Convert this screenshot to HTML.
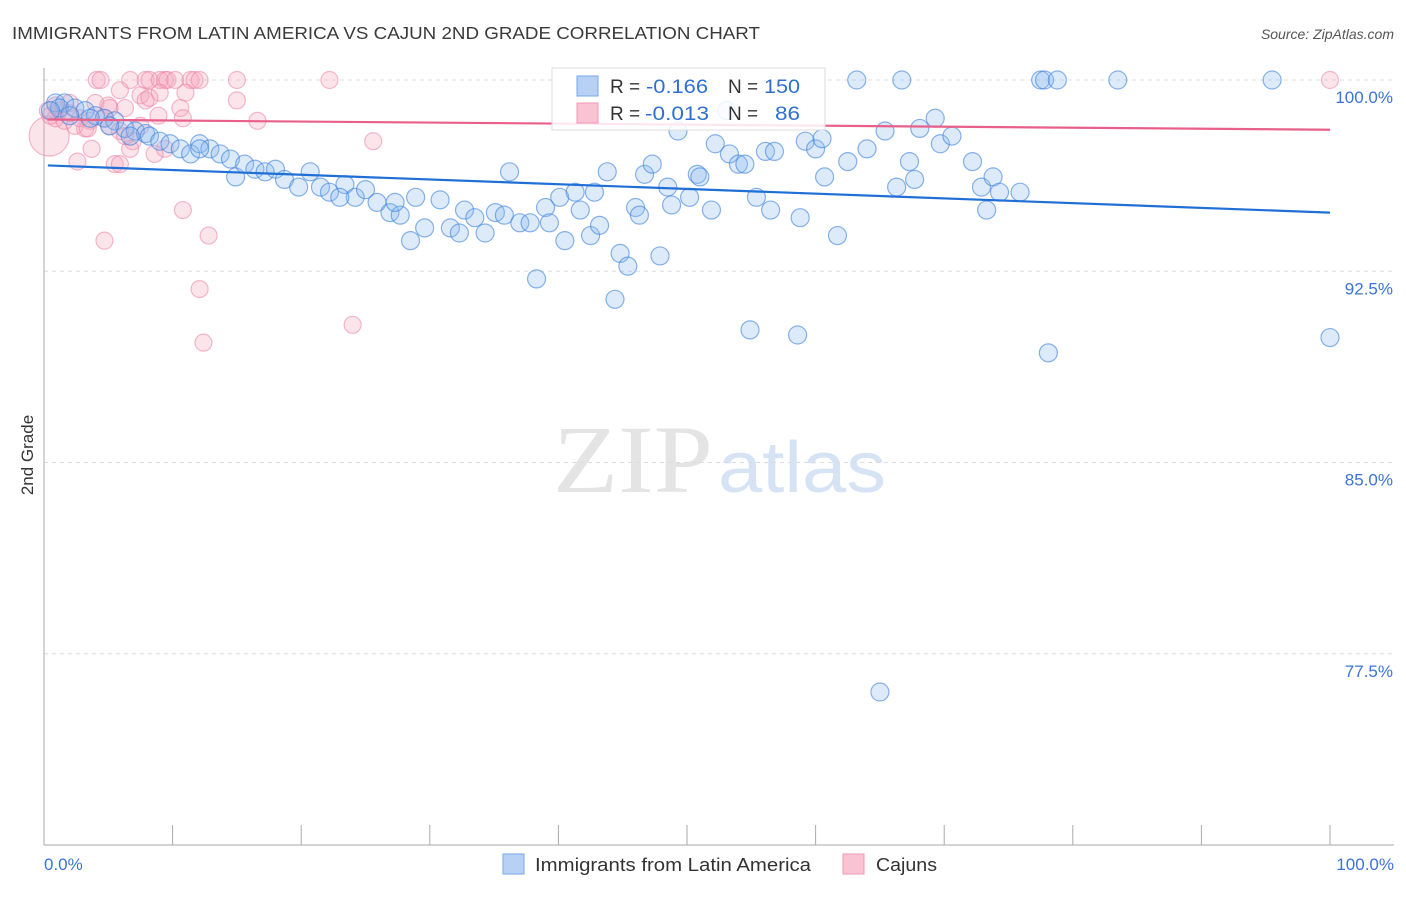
<!DOCTYPE html>
<html><head><meta charset="utf-8"><style>
body{margin:0;background:#fff;}
svg{font-family:"Liberation Sans",sans-serif;}
</style></head><body>
<svg width="1406" height="892" viewBox="0 0 1406 892">
<text x="12" y="39" font-size="17.5" fill="#3a3a3a" textLength="748" lengthAdjust="spacingAndGlyphs">IMMIGRANTS FROM LATIN AMERICA VS CAJUN 2ND GRADE CORRELATION CHART</text>
<text x="1394" y="39" font-size="14" fill="#555" font-style="italic" text-anchor="end">Source: ZipAtlas.com</text>
<g>
<text x="553" y="492" font-size="96" font-family="Liberation Serif,serif" fill="#e4e4e4" textLength="160" lengthAdjust="spacingAndGlyphs">ZIP</text>
<text x="718" y="492" font-size="72" fill="#d6e3f5" textLength="168" lengthAdjust="spacingAndGlyphs">atlas</text>
</g>
<g id="grid"></g>
<g id="axes"></g>
<g id="marks"></g>
<g>
<rect x="552" y="68" width="273" height="62" fill="#fff" fill-opacity="0.85" stroke="#ddd"/>
<rect x="577" y="76" width="21" height="20" fill="#b7d1f5" stroke="#7aa6e6"/>
<rect x="577" y="103" width="21" height="20" fill="#f9c3d3" stroke="#ef9ab5"/>
<text x="610" y="93" font-size="19" fill="#333">R =</text>
<text x="646" y="93" font-size="19" fill="#2f6fd0" textLength="62" lengthAdjust="spacingAndGlyphs">-0.166</text>
<text x="728" y="93" font-size="19" fill="#333">N =</text>
<text x="764" y="93" font-size="19" fill="#2f6fd0" textLength="36" lengthAdjust="spacingAndGlyphs">150</text>
<text x="610" y="120" font-size="19" fill="#333">R =</text>
<text x="645" y="120" font-size="19" fill="#2f6fd0" textLength="64" lengthAdjust="spacingAndGlyphs">-0.013</text>
<text x="728" y="120" font-size="19" fill="#333">N =</text>
<text x="775" y="120" font-size="19" fill="#2f6fd0" textLength="25" lengthAdjust="spacingAndGlyphs">86</text>
</g>
<g>
<rect x="503" y="854" width="21" height="20" fill="#b7d1f5" stroke="#7aa6e6"/>
<text x="535" y="871" font-size="18" fill="#333" textLength="276" lengthAdjust="spacingAndGlyphs">Immigrants from Latin America</text>
<rect x="843" y="854" width="21" height="20" fill="#f9c3d3" stroke="#ef9ab5"/>
<text x="876" y="871" font-size="18" fill="#333" textLength="61" lengthAdjust="spacingAndGlyphs">Cajuns</text>
</g>
<text transform="translate(33,455) rotate(-90)" font-size="17" fill="#333" text-anchor="middle">2nd Grade</text>
</svg>
<script>
const yTicks=[100,92.5,85,77.5];
const yTickLabels=["100.0%","92.5%","85.0%","77.5%"];
const xTickLabels=["0.0%","100.0%"];
const blueTrend=[96.65,94.8];
const pinkTrend=[98.45,98.05];
const bluePts=[[0.9,99.1],[1.6,99.1],[1.2,98.9],[2.4,98.9],[3.2,98.8],[4.0,98.6],[4.7,98.5],[5.5,98.4],[6.3,98.1],[7.1,98.0],[7.9,97.9],[8.2,97.8],[9.0,97.6],[9.8,97.5],[10.6,97.3],[11.4,97.1],[12.1,97.5],[12.9,97.3],[13.7,97.1],[14.5,96.9],[14.9,96.2],[15.6,96.7],[16.4,96.5],[17.2,96.4],[18.0,96.5],[18.7,96.1],[19.8,95.8],[20.7,96.4],[21.5,95.8],[22.2,95.6],[23.4,95.9],[24.2,95.4],[25.0,95.7],[25.9,95.2],[26.9,94.8],[28.5,93.7],[28.9,95.4],[29.6,94.2],[30.8,95.3],[31.6,94.2],[32.7,94.9],[33.5,94.6],[34.3,94.0],[35.1,94.8],[35.8,94.7],[36.2,96.4],[37.0,94.4],[37.8,94.4],[38.3,92.2],[39.0,95.0],[39.3,94.4],[40.1,95.4],[40.5,93.7],[41.3,95.6],[41.7,94.9],[42.5,93.9],[42.8,95.6],[43.2,94.3],[43.8,96.4],[44.4,91.4],[44.8,93.2],[45.4,92.7],[46.0,95.0],[46.3,94.7],[46.7,96.3],[47.3,96.7],[47.9,93.1],[48.5,95.8],[48.8,95.1],[49.3,98.0],[50.2,95.4],[50.8,96.3],[51.0,96.2],[51.9,94.9],[52.2,97.5],[53.3,97.1],[54.0,96.7],[54.5,96.7],[54.9,90.2],[55.4,95.4],[56.1,97.2],[56.5,94.9],[56.8,97.2],[58.6,90.0],[58.8,94.6],[59.2,97.6],[60.0,97.3],[60.5,97.7],[60.7,96.2],[61.7,93.9],[62.5,96.8],[63.2,100],[64.0,97.3],[65.0,76.0],[65.4,98.0],[66.3,95.8],[66.7,100],[67.3,96.8],[67.7,96.1],[68.1,98.1],[69.3,98.5],[69.7,97.5],[70.6,97.8],[72.2,96.8],[72.9,95.8],[73.3,94.9],[73.8,96.2],[74.3,95.6],[75.9,95.6],[77.5,100],[77.8,100],[78.1,89.3],[78.8,100],[83.5,100],[95.5,100],[100,89.9],[53.1,98.8],[0.5,98.8],[2.0,98.6],[3.6,98.5],[5.1,98.2],[6.7,97.8],[12.1,97.3],[23.0,95.4],[27.7,94.7],[32.3,94.0],[27.3,95.2]];
const pinkPts=[[4.1,100],[4.4,100],[6.7,100],[7.9,100],[8.2,100],[9.0,100],[9.4,100],[9.6,100],[10.2,100],[11.4,100],[11.7,100],[12.1,100],[15.0,100],[22.2,100],[100,100],[5.9,99.6],[7.5,99.4],[7.9,99.2],[8.2,99.3],[9.0,99.5],[11.0,99.5],[15.0,99.2],[10.6,98.9],[4.0,99.1],[5.0,99.0],[6.3,98.9],[8.9,98.6],[10.8,98.5],[16.6,98.4],[1.2,98.8],[2.0,98.7],[2.8,98.5],[3.6,98.4],[4.7,98.5],[0.9,98.5],[1.6,98.4],[2.4,98.2],[3.2,98.1],[5.1,98.2],[5.9,98.0],[6.9,97.6],[25.6,97.6],[3.7,97.3],[6.7,97.3],[9.4,97.3],[8.6,97.1],[2.6,96.8],[5.5,96.7],[5.9,96.7],[10.8,94.9],[12.8,93.9],[4.7,93.7],[12.1,91.8],[24.0,90.4],[12.4,89.7],[0.5,98.6],[0.3,98.8],[5.1,98.9],[7.5,98.2],[6.3,97.8],[3.4,98.1],[0.9,99.0],[2.0,99.1]];
const pinkBig=[[0.4,97.8]];

const NS="http://www.w3.org/2000/svg";
const X0=44,X1=1330,YT=80,K=25.5,YB=845;
function sx(v){return X0+(X1-X0)*v/100;}
function sy(v){return YT+(100-v)*K;}
function mk(tag,attrs,parent){const e=document.createElementNS(NS,tag);for(const k in attrs)e.setAttribute(k,attrs[k]);parent.appendChild(e);return e;}
const grid=document.getElementById('grid'),axes=document.getElementById('axes'),marks=document.getElementById('marks');
yTicks.forEach((t,i)=>{
  const l=mk('line',{x1:X0,x2:1394,y1:sy(t),y2:sy(t),stroke:'#dcdcdc','stroke-dasharray':'4,4'},grid);
  
  
  const tx=mk('text',{x:1393,y:sy(t)+23,'font-size':17,fill:'#3a74d6','text-anchor':'end'},axes);
  tx.textContent=yTickLabels[i];
  
  
});
const ya=mk('line',{x1:X0,x2:X0,y1:68,y2:YB,stroke:'#aaa'},axes);


const xa=mk('line',{x1:X0,x2:1394,y1:YB,y2:YB,stroke:'#aaa'},axes);


for(let i=0;i<=10;i++){
  const t=mk('line',{x1:sx(i*10),x2:sx(i*10),y1:YB,y2:YB-20,stroke:'#aaa'},axes);
  
  
}
[[0,'start',X0],[1,'end',1394]].forEach(([i,a,x])=>{
  const t=mk('text',{x:x,y:870,'font-size':17,fill:'#3a74d6','text-anchor':a},axes);
  t.textContent=xTickLabels[i];
  
  
});
pinkBig.forEach(p=>{
  const c=mk('circle',{cx:sx(p[0]),cy:sy(p[1]),r:20,fill:'rgba(245,165,190,0.3)',stroke:'rgba(235,130,165,0.55)','stroke-width':1.2},marks);
  
  
});
pinkPts.forEach(p=>{
  const c=mk('circle',{cx:sx(p[0]),cy:sy(p[1]),r:8.5,fill:'rgba(245,165,190,0.3)',stroke:'rgba(235,130,165,0.55)','stroke-width':1.2},marks);
  
  
});
bluePts.forEach(p=>{
  const c=mk('circle',{cx:sx(p[0]),cy:sy(p[1]),r:9,fill:'rgba(140,185,240,0.3)',stroke:'rgba(60,130,220,0.6)','stroke-width':1.2},marks);
  
  
});
const bl=mk('line',{x1:sx(0.3),x2:sx(100),y1:sy(blueTrend[0]),y2:sy(blueTrend[1]),stroke:'#1f6fd6','stroke-width':2.2},marks);


const pl=mk('line',{x1:sx(0.3),x2:sx(100),y1:sy(pinkTrend[0]),y2:sy(pinkTrend[1]),stroke:'#e8608a','stroke-width':2.2},marks);


</script>
</body></html>
